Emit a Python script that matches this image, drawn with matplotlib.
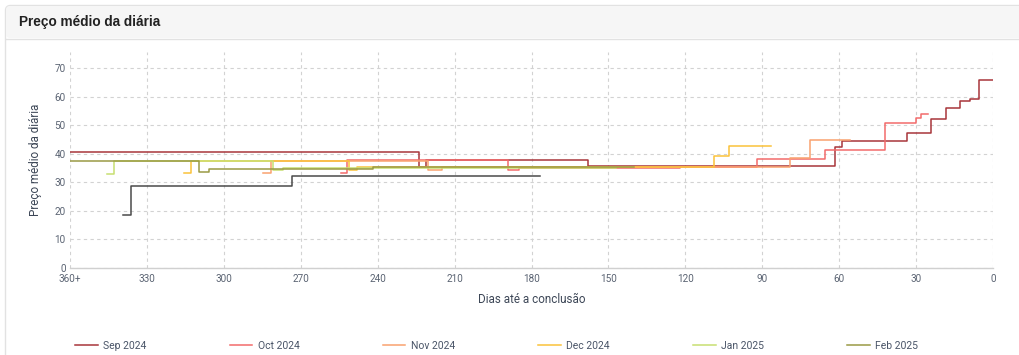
import matplotlib
matplotlib.use("Agg")
import matplotlib.pyplot as plt
from matplotlib.patches import FancyBboxPatch

# ---------------- data ----------------
series_labels = ["Sep 2024", "Oct 2024", "Nov 2024", "Dec 2024", "Jan 2025", "Feb 2025"]
series_colors = ["#a8353b", "#f26b6b", "#f9a26f", "#fbc23a", "#c8df72", "#9a9a45"]

sep_days = [360, 224, 221, 158, 61.5, 59, 33.6, 24.3, 18.4, 13, 9, 5.6, 0]
sep_vals = [40.5, 35.5, 37.8, 35.7, 42.3, 44.6, 47.2, 52.0, 55.9, 58.6, 59.3, 65.7, 65.7]

oct_days = [254.4, 251.8, 189, 185, 122, 92, 65.5, 42, 30, 28, 25.5]
oct_vals = [33.1, 37.7, 34.4, 35.0, 35.5, 38.3, 41.3, 50.9, 52.4, 53.8, 53.8]

nov_days = [284.8, 281.6, 220.5, 214.8, 79, 71.3, 55.7]
nov_vals = [33.1, 37.6, 34.4, 35.2, 38.4, 44.8, 44.8]

dec_days = [315.5, 312.8, 251, 248, 109, 102.8, 86.6]
dec_vals = [33.1, 37.6, 34.4, 35.3, 39.2, 42.8, 42.8]

jan_days = [345.6, 343, 281, 277, 147]
jan_vals = [32.9, 37.6, 34.4, 35.1, 35.1]

feb_days = [360, 309.6, 305.7, 242, 140]
feb_vals = [37.6, 33.5, 34.5, 35.2, 35.2]

other_days = [339.5, 336.2, 273.5, 176.5]
other_vals = [18.6, 28.8, 32.2, 32.2]
other_color = "#4a4a4a"

x_ticks = [360, 330, 300, 270, 240, 210, 180, 150, 120, 90, 60, 30, 0]
x_tick_labels = ["360+", "330", "300", "270", "240", "210", "180", "150", "120", "90", "60", "30", "0"]
y_ticks = [0, 10, 20, 30, 40, 50, 60, 70]

title_text = "Preço médio da diária"
x_label = "Dias até a conclusão"
y_label = "Preço médio da diária"

# ---------------- figure ----------------
W, H = 1019, 355
fig = plt.figure(figsize=(W / 100, H / 100), dpi=100)
fig.patch.set_facecolor("white")

# background card (pixel coords)
bg = fig.add_axes([0, 0, 1, 1], zorder=0)
bg.set_xlim(0, W)
bg.set_ylim(H, 0)
bg.axis("off")
bg.add_patch(FancyBboxPatch((5.5, 5.5), W + 20, H + 20,
                            boxstyle="round,pad=0,rounding_size=5",
                            facecolor="white", edgecolor="#e2e2e2", lw=1))
bg.add_patch(FancyBboxPatch((6, 6), W + 20, 32,
                            boxstyle="round,pad=0,rounding_size=4",
                            facecolor="#f6f6f6", edgecolor="none"))
bg.plot([6, W], [38.5, 38.5], color="#e2e2e2", lw=1)
bg.text(19, 22, title_text, fontsize=9.8, fontweight="bold", color="#222222",
        va="center", ha="left", family=["Liberation Sans", "DejaVu Sans"])

# main axes
left, right, bottom_px, top_px = 70, 993, 268, 52
ax = fig.add_axes([left / W, 1 - bottom_px / H, (right - left) / W, (bottom_px - top_px) / H], zorder=1)
ax.patch.set_alpha(0)

all_days = [sep_days, oct_days, nov_days, dec_days, jan_days, feb_days]
all_vals = [sep_vals, oct_vals, nov_vals, dec_vals, jan_vals, feb_vals]

ax.plot(other_days, other_vals, drawstyle="steps-post", color=other_color, lw=1.1,
        label="_nolegend_", zorder=2)
for d, v, lab, col in zip(all_days, all_vals, series_labels, series_colors):
    ax.plot(d, v, drawstyle="steps-post", color=col, lw=1.1, label=lab, zorder=3)

ax.set_xlim(360, 0)
ax.set_ylim(0, 75.6)
ax.set_xticks(x_ticks)
ax.set_xticklabels(x_tick_labels)
ax.set_yticks(y_ticks)

tick_font = ["Roboto", "DejaVu Sans"]
for lab in ax.get_xticklabels() + ax.get_yticklabels():
    lab.set_family(tick_font)
ax.tick_params(axis="both", length=0, labelsize=7.2, labelcolor="#5b6473")
ax.tick_params(axis="x", pad=4)
ax.tick_params(axis="y", pad=3)

ax.grid(True, color="#d2d2d2", linestyle=(0, (3, 3)), lw=0.8)
ax.set_axisbelow(True)
for s in ["top", "right", "left"]:
    ax.spines[s].set_visible(False)
ax.spines["bottom"].set_color("#d0d0d0")
ax.spines["bottom"].set_linewidth(1)

ax.set_xlabel(x_label, fontsize=8.4, color="#3c4656", family=tick_font, labelpad=7)
ax.set_ylabel(y_label, fontsize=8.4, color="#3c4656", family=tick_font, labelpad=9)

leg = fig.legend(loc="center left", ncol=6, mode="expand",
                 bbox_to_anchor=(75 / W, 1 - 346 / H, (918 - 75) / W, 0.0),
                 frameon=False, handlelength=2.2, handletextpad=0.5,
                 prop={"family": tick_font, "size": 7.5}, borderaxespad=0, borderpad=0)
for t in leg.get_texts():
    t.set_color("#4a5568")

fig.savefig("out.png", dpi=100, facecolor="white")
